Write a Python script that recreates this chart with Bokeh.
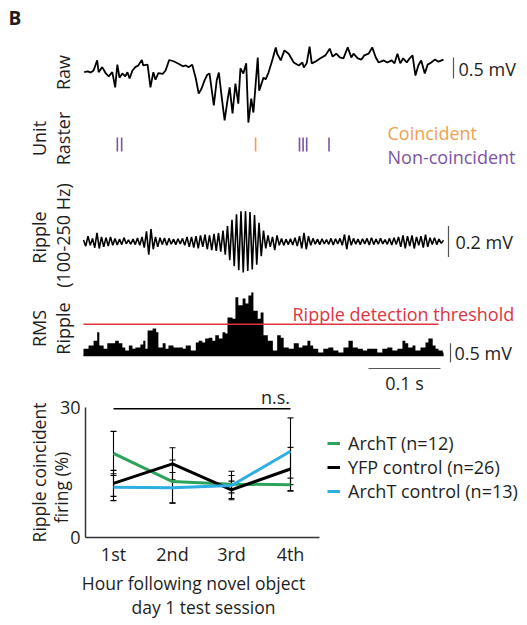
import numpy as np
from math import pi
from bokeh.plotting import figure
from bokeh.models import (Range1d, Label, Whisker, TeeHead, FixedTicker, ColumnDataSource,
                          LinearAxis, Legend, LegendItem)
from bokeh.embed import file_html
from bokeh.resources import INLINE

# ---------------- data ----------------
# raw LFP (time ms, mV)
raw_t = [1, 6, 10, 14, 19, 21, 26, 31, 35, 40,
         44, 47, 50, 54, 58, 61, 64, 68, 72, 76,
         81, 83, 89, 93, 97, 100, 104, 110, 114, 119,
         125, 132, 138, 142, 146, 151, 156, 160, 164, 168,
         172, 175, 181, 185, 188, 192, 196, 200, 203, 207,
         211, 215, 218, 222, 226, 229, 233, 236, 242, 244,
         250, 253, 257, 263, 267, 269, 274, 279, 285, 292,
         299, 304, 306, 310, 314, 317, 322, 329, 336, 342,
         346, 351, 356, 361, 367, 372, 375, 381, 386, 390,
         396, 401, 406, 410, 417, 422, 428, 432, 436, 440,
         444, 449, 453, 457, 461, 465, 469, 474, 478, 483,
         488, 493, 500]
raw_mv = [-0.04, -0.02, -0.05, 0.00, 0.24, -0.04, 0.08, -0.07, -0.14, -0.04,
          -0.40, 0.14, -0.17, -0.07, -0.14, -0.04, -0.19, 0.00, 0.08, 0.12,
          0.25, 0.12, 0.14, -0.40, -0.04, -0.22, -0.06, -0.08, 0.00, 0.25,
          0.22, 0.16, 0.10, 0.12, 0.08, 0.14, -0.19, -0.55, -0.43, -0.24,
          -0.10, -0.07, -0.83, -0.24, -0.05, -0.64, -1.19, -0.71, -0.40, -1.02,
          -0.31, -0.79, 0.05, -0.07, 0.17, -1.24, -0.67, -1.00, 0.31, -0.48,
          -0.17, -0.21, -0.05, 0.29, 0.55, 0.40, 0.24, 0.48, 0.40, 0.19,
          0.12, 0.19, 0.07, 0.17, 0.57, 0.17, 0.21, 0.29, 0.36, 0.52,
          0.33, 0.40, 0.31, 0.29, 0.55, 0.31, 0.40, 0.29, 0.26, 0.36,
          0.40, 0.55, 0.31, 0.19, 0.24, 0.19, 0.24, 0.17, 0.40, 0.17,
          0.29, 0.19, 0.29, 0.36, -0.12, 0.12, 0.24, -0.07, 0.14, 0.19,
          0.26, 0.21, 0.26]

# unit raster spike times (ms)
coincident_t = [239]
noncoincident_t = [47, 53, 300, 305, 310, 341]

# ripple-band filtered trace (uV), sampled every 3.125 ms
ripple_dt = 3.125
ripple_uv = [10, -30, 35, -25, 20, -40, 55, -45, 30, -35,
             25, -30, 30, -25, 20, -22, 15, -20, 25, -15,
             10, -18, 15, -20, 22, -25, 30, -40, 65, -85,
             80, -50, 30, -35, 25, -20, 22, -25, 20, -18,
             15, -20, 18, -15, 20, -25, 30, -35, 30, -40,
             35, -45, 40, -35, 45, -50, 40, -55, 50, -60,
             55, -65, 70, -85, 100, -120, 140, -160, 175, -185,
             195, -200, 195, -190, 190, -180, 170, -150, 120, -95,
             70, -45, 40, -35, 30, -55, 40, -25, 20, -25,
             15, -20, 18, -22, 25, -30, 35, -45, 55, -50,
             35, -25, 20, -18, 15, -20, 18, -15, 12, -18,
             20, -22, 18, -15, 20, -25, 45, -50, 40, -25,
             20, -18, 15, -20, 18, -15, 20, -22, 25, -20,
             15, -18, 20, -15, 12, -18, 20, -22, 25, -20,
             30, -35, 40, -45, 35, -30, 40, -45, 30, -25,
             35, -40, 45, -35, 25, -20, 25, -20, 15, -12,
             8]

# ripple RMS (ms, mV), step-wise
rms_t = [0, 7, 14, 19, 22, 28, 33, 40, 44, 49,
         54, 58, 63, 68, 72, 79, 83, 86, 89, 96,
         101, 104, 110, 114, 118, 125, 132, 138, 142, 149,
         156, 160, 165, 169, 174, 179, 183, 188, 193, 197,
         200, 207, 211, 215, 221, 225, 229, 233, 236, 242,
         246, 250, 256, 263, 269, 274, 278, 285, 292, 299,
         304, 311, 315, 319, 326, 333, 340, 347, 354, 361,
         368, 374, 381, 388, 394, 401, 408, 415, 422, 429,
         436, 443, 447, 451, 457, 461, 468, 475, 479, 485,
         489, 493, 499, 500]
rms_mv = [0.18, 0.26, 0.39, 0.61, 0.26, 0.18, 0.32, 0.32, 0.39, 0.32,
          0.21, 0.13, 0.26, 0.18, 0.21, 0.29, 0.39, 0.18, 0.66, 0.71,
          0.61, 0.21, 0.32, 0.18, 0.26, 0.21, 0.21, 0.18, 0.26, 0.13,
          0.34, 0.39, 0.34, 0.45, 0.47, 0.39, 0.53, 0.45, 0.61, 0.58,
          1.00, 0.97, 1.53, 1.32, 1.50, 1.37, 1.58, 1.66, 1.18, 0.97,
          1.13, 0.53, 0.39, 0.13, 0.53, 0.47, 0.21, 0.18, 0.32, 0.21,
          0.26, 0.39, 0.26, 0.18, 0.08, 0.18, 0.21, 0.13, 0.08, 0.21,
          0.39, 0.21, 0.18, 0.13, 0.18, 0.18, 0.08, 0.18, 0.21, 0.13,
          0.18, 0.39, 0.32, 0.21, 0.26, 0.13, 0.21, 0.34, 0.45, 0.26,
          0.18, 0.13, 0.08, 0.08]
rms_threshold_mv = 0.82

# bottom chart
hours = ["1st", "2nd", "3rd", "4th"]
archt = [19.4, 12.9, 12.3, 12.2]
archt_err = [5.1, 5.0, 2.0, 1.5]
yfp = [12.5, 17.0, 11.0, 15.8]
yfp_err = [3.0, 3.7, 2.0, 5.0]
archt_ctrl = [11.6, 11.5, 12.0, 19.9]
archt_ctrl_err = [3.1, 3.5, 3.3, 7.7]
series_names = ["ArchT (n=12)", "YFP control (n=26)", "ArchT control (n=13)"]
ns_y = 29.7

# ---------------- styling / layout ----------------
FONT = "Open Sans"
FS = "18px"
FS_AX = "17.5px"
TXT = "#1e1e1e"
ORANGE = "#F0A14E"
PURPLE = "#7B55A3"
RED = "#E0343F"
GREEN = "#2BA35B"
BLUE = "#2FAEE3"
BAR = "#555555"

W, H = 527, 625
X0 = 83            # pixel of t = 0
PX_PER_MS = 0.72   # 0.1 s = 72 px
XPX = 59.0             # px per hour (bottom chart)
YPX = 130.0 / 30.0     # px per % (bottom chart)
X1PX, Y0PX = 113, 537  # pixel of hour 1 / of 0 %


def t_of(px):
    return (px - X0) / PX_PER_MS


def bx(px):
    return 1 + (px - X1PX) / XPX


def by(py):
    return (Y0PX - py) / YPX


def yr(zero_px, px_per_unit):
    return Range1d(-(H - zero_px) / px_per_unit, zero_px / px_per_unit)


p = figure(width=W, height=H, x_range=Range1d(t_of(0), t_of(W)),
           y_range=Range1d(H, 0), min_border=0,
           x_axis_type=None, y_axis_type=None,
           toolbar_location=None, output_backend="svg")
p.outline_line_color = None
p.background_fill_color = "white"
p.border_fill_color = "white"
p.extra_y_ranges = {
    "raw": yr(70, 42.0),
    "raster": yr(151, 14.0),
    "rip": yr(241, 0.155),
    "rms": yr(355, 38.0),
    "pct": Range1d(by(H), by(0)),
}
p.extra_x_ranges = {"hours": Range1d(bx(0), bx(W))}


def lab(px, py, text, angle=0.0, align="center", color=TXT, size=FS, style="normal", baseline="middle"):
    p.add_layout(Label(x=t_of(px), y=py, text=text, angle=angle, text_align=align,
                       text_baseline=baseline, text_font=FONT, text_font_size=size,
                       text_color=color, text_font_style=style))


lab(8, 4, "B", align="left", size="19px", style="bold", baseline="top")

# raw
p.line(raw_t, raw_mv, y_range_name="raw", line_color="black", line_width=1.8)
p.line([t_of(453)] * 2, [-0.19, 0.31], y_range_name="raw", line_color=BAR, line_width=1.2)
lab(458, 68, "0.5 mV", align="left")
lab(62, 72, "Raw", angle=pi / 2)

# raster
p.segment(x0=noncoincident_t, y0=0, x1=noncoincident_t, y1=1, y_range_name="raster",
          line_color=PURPLE, line_width=1.6)
p.segment(x0=coincident_t, y0=0, x1=coincident_t, y1=1, y_range_name="raster",
          line_color=ORANGE, line_width=1.6)
lab(387, 132, "Coincident", align="left", color=ORANGE)
lab(387, 156, "Non-coincident", align="left", color=PURPLE)
lab(38, 138, "Unit", angle=pi / 2)
lab(62, 138, "Raster", angle=pi / 2)

# ripple
rip_t = np.arange(len(ripple_uv)) * ripple_dt
p.line(rip_t, ripple_uv, y_range_name="rip", line_color="black", line_width=1.6)
p.line([t_of(448)] * 2, [-100, 100], y_range_name="rip", line_color=BAR, line_width=1.2)
lab(455, 241, "0.2 mV", align="left")
lab(38, 237, "Ripple", angle=pi / 2)
lab(62, 235, "(100-250 Hz)", angle=pi / 2)

# RMS
n = min(len(rms_t), len(rms_mv))
p.varea_step(x=rms_t[:n], y1=np.zeros(n), y2=rms_mv[:n], step_mode="after",
             fill_color="black", y_range_name="rms")
p.line([rms_t[0], rms_t[n - 1]], [0, 0], y_range_name="rms", line_color="black", line_width=1.5)
p.line([rms_t[0], t_of(438)], [rms_threshold_mv] * 2, y_range_name="rms",
       line_color=RED, line_width=1.5)
lab(292, 313, "Ripple detection threshold", align="left", color=RED)
p.line([t_of(450)] * 2, [-0.18, 0.32], y_range_name="rms", line_color=BAR, line_width=1.2)
lab(454, 352, "0.5 mV", align="left")
lab(38, 328, "RMS", angle=pi / 2)
lab(62, 328, "Ripple", angle=pi / 2)

# time scale bar (0.1 s)
p.line([t_of(368), t_of(368) + 100], [368, 368], line_color=BAR, line_width=1.2)
lab(404, 382, "0.1 s")

# ---------------- bottom chart ----------------
xs = np.arange(1, len(hours) + 1)
XR, YR = "hours", "pct"

yaxis = LinearAxis(x_range_name=XR, y_range_name=YR, fixed_location=bx(85),
                   bounds=(0, 30), ticker=FixedTicker(ticks=[0, 30]),
                   major_label_standoff=5)
xaxis = LinearAxis(x_range_name=XR, y_range_name=YR, fixed_location=0,
                   bounds=(bx(85), bx(319)), ticker=FixedTicker(ticks=list(xs)),
                   major_label_overrides={int(x): h for x, h in zip(xs, hours)},
                   major_label_standoff=4)
for ax in (xaxis, yaxis):
    ax.axis_line_color = "#333333"
    ax.axis_line_width = 1.5
    ax.major_tick_line_color = None
    ax.minor_tick_line_color = None
    ax.major_tick_out = 0
    ax.major_tick_in = 0
    ax.minor_tick_out = 0
    ax.major_label_text_font = FONT
    ax.major_label_text_font_size = FS
    ax.major_label_text_color = TXT
p.add_layout(yaxis, "left")
p.add_layout(xaxis, "below")

items = []
for vals, errs, col, name in [(archt, archt_err, GREEN, series_names[0]),
                              (yfp, yfp_err, "black", series_names[1]),
                              (archt_ctrl, archt_ctrl_err, BLUE, series_names[2])]:
    v = np.array(vals)
    e = np.array(errs)
    r = p.line(xs, v, line_color=col, line_width=3, x_range_name=XR, y_range_name=YR)
    items.append(LegendItem(label=name, renderers=[r]))
    src = ColumnDataSource(dict(x=xs, lo=v - e, hi=v + e))
    p.add_layout(Whisker(source=src, base="x", upper="hi", lower="lo",
                         x_range_name=XR, y_range_name=YR,
                         line_color="black", line_width=1.1,
                         upper_head=TeeHead(size=6, line_color="black", line_width=1.1),
                         lower_head=TeeHead(size=6, line_color="black", line_width=1.1)))

p.line([xs[0], xs[-1]], [ns_y, ns_y], line_color="black", line_width=1.5,
       x_range_name=XR, y_range_name=YR)


def blab(px, py, text, angle=0.0, size=FS_AX):
    p.add_layout(Label(x=bx(px), y=by(py), text=text, angle=angle, text_align="center",
                       text_baseline="middle", text_font=FONT, text_font_size=size,
                       text_color=TXT, x_range_name=XR, y_range_name=YR))


blab(275, 396, "n.s.", size=FS)
blab(38, 472, "Ripple coincident", pi / 2)
blab(60, 487, "firing (%)", pi / 2)
blab(193, 582, "Hour following novel object")
blab(203, 606, "day 1 test session")

lg = Legend(items=items, location=(327, H - 503))
lg.border_line_color = None
lg.background_fill_alpha = 0
lg.label_text_font = FONT
lg.label_text_font_size = FS
lg.label_text_color = TXT
lg.glyph_width = 13
lg.glyph_height = 22
lg.label_height = 22
lg.spacing = 0
lg.padding = 0
lg.margin = 0
lg.label_standoff = 8
p.add_layout(lg)

open("out.html", "w").write(file_html(p, INLINE))
